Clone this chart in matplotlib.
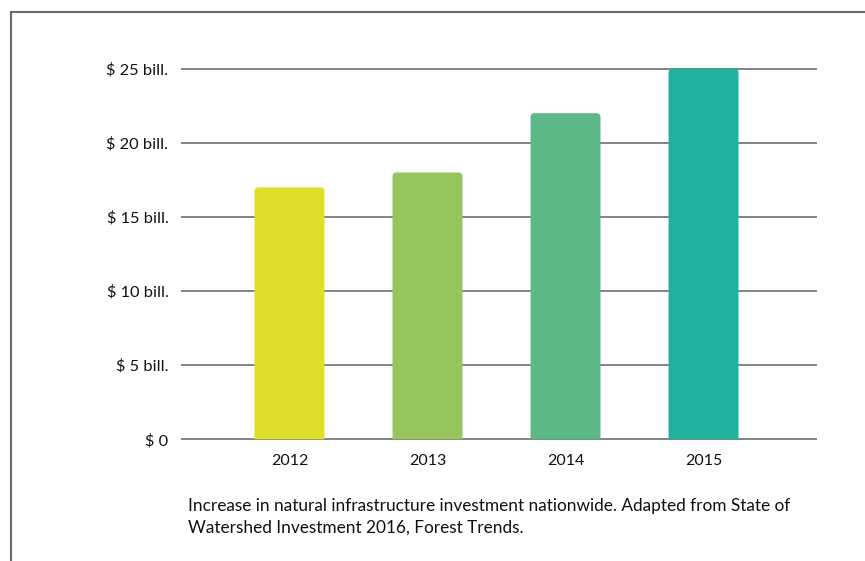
import matplotlib
matplotlib.use("Agg")
import matplotlib.pyplot as plt
from matplotlib.patches import PathPatch
from matplotlib.path import Path
from matplotlib.lines import Line2D

years = ["2012", "2013", "2014", "2015"]
values = [17, 18, 22, 25]
colors = ["#DFDF2B", "#96C45D", "#5CB887", "#1FB29E"]
ytick_vals = [0, 5, 10, 15, 20, 25]
ytick_labels = ["$ 0", "$ 5 bill.", "$ 10 bill.", "$ 15 bill.", "$ 20 bill.", "$ 25 bill."]
caption = ("Increase in natural infrastructure investment nationwide. Adapted from State of\n"
           "Watershed Investment 2016, Forest Trends.")

plt.rcParams['font.family'] = ['Lato', 'DejaVu Sans']

W, H = 865, 561
fig = plt.figure(figsize=(W / 100, H / 100), dpi=100)
ax = fig.add_axes([181 / W, 1 - 440 / H, (817 - 181) / W, (440 - 68) / H])

ax.set_xlim(-0.786, 3.822)
ax.set_yticks(ytick_vals)
ax.set_yticklabels(ytick_labels, fontsize=11.8, color="#111111")
ax.set_xticks(range(len(years)))
ax.set_xticklabels(years, fontsize=11.5, color="#111111")
ax.tick_params(axis="both", length=0)
ax.tick_params(axis="y", pad=9)
ax.tick_params(axis="x", pad=10)
for s in ax.spines.values():
    s.set_visible(False)
ax.set_ylim(-0.05, 25.05)
ax.grid(axis="y", color="#7a7a7a", linewidth=1.3)
ax.set_axisbelow(True)

bw = 0.507
aspect = (1 / 14.88) / (1 / 138.0)
bars = ax.bar(range(len(years)), values, width=bw, color=colors, alpha=0)
for b, c in zip(bars, colors):
    x0, w, h = b.get_x(), b.get_width(), b.get_height()
    x1 = x0 + w
    rx = 0.03
    ry = rx * aspect
    verts = [(x0, 0), (x0, h - ry), (x0, h), (x0 + rx, h), (x1 - rx, h),
             (x1, h), (x1, h - ry), (x1, 0), (x0, 0)]
    codes = [Path.MOVETO, Path.LINETO, Path.CURVE3, Path.CURVE3, Path.LINETO,
             Path.CURVE3, Path.CURVE3, Path.LINETO, Path.CLOSEPOLY]
    ax.add_patch(PathPatch(Path(verts, codes), facecolor=c, edgecolor="none", zorder=3))

fig.text(188 / W, 1 - 498 / H, caption, fontsize=12.4, color="#111111",
         ha="left", va="top", linespacing=1.45)

fig.add_artist(Line2D([11 / W, 1], [1 - 12 / H, 1 - 12 / H], transform=fig.transFigure,
                      color="#6a6a6a", linewidth=1.5))
fig.add_artist(Line2D([11 / W, 11 / W], [0, 1 - 12 / H], transform=fig.transFigure,
                      color="#6a6a6a", linewidth=1.5))

fig.savefig("out.png", dpi=100)
